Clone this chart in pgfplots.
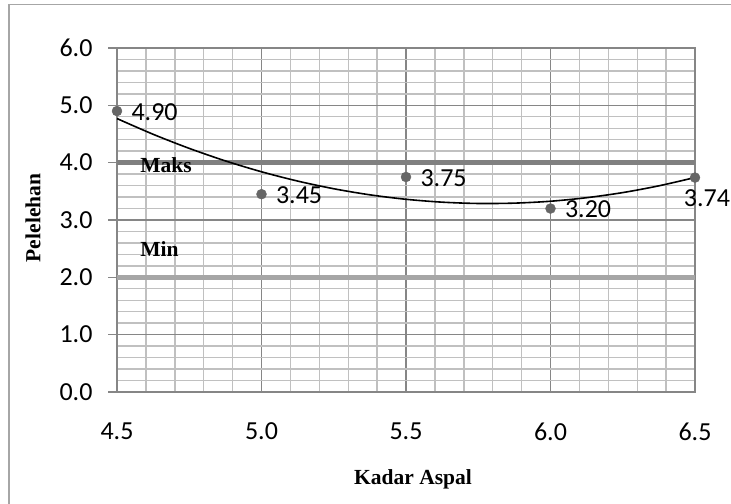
\documentclass[border=0pt]{standalone}
\usepackage{pgfplots}
\pgfplotsset{compat=1.18}
\usepackage{fontspec}
\setmainfont{Carlito}
\newfontfamily\timesf{Liberation Serif}
\definecolor{majgrid}{HTML}{868686}
\definecolor{mingrid}{HTML}{C0C0C0}
\definecolor{maksc}{HTML}{808080}
\definecolor{minc}{HTML}{A6A6A6}
\definecolor{dotc}{HTML}{666666}
\begin{document}
\begin{tikzpicture}[x=1bp,y=1bp]
\useasboundingbox (0,0) rectangle (731,504);
\draw[color=minc, line width=1.5bp] (9,0) -- (9,499.5) -- (731,499.5);
\begin{axis}[
  at={(117bp,112bp)}, anchor=south west,
  width=578bp, height=344bp, scale only axis,
  xmin=4.5, xmax=6.5, ymin=0, ymax=6,
  xtick={4.5,5.0,5.5,6.0,6.5}, ytick={0,1,2,3,4,5,6},
  minor x tick num=4, minor y tick num=4,
  grid=both,
  major grid style={color=majgrid, line width=1.3bp},
  minor grid style={color=mingrid, line width=1.4bp},
  axis line style={color=majgrid, line width=1.3bp},
  tick align=outside,
  ytick pos=left,
  major tick length=9bp,
  minor tick length=0pt,
  xtick style={draw=none},
  ytick style={color=majgrid, line width=1.3bp},
  /pgf/number format/assume math mode=true,
  /pgf/number format/.cd, fixed, fixed zerofill, precision=1, /pgfplots/.cd,
  tick label style={font=\fontsize{26bp}{30bp}\selectfont},
  yticklabel shift=12bp,
  xticklabel shift=18bp,
  clip=false,
]
\addplot[color=minc, line width=4.5bp, forget plot] coordinates {(4.5,2.0) (6.5,2.0)};
\addplot[color=maksc, line width=5bp, forget plot] coordinates {(4.5,4.0) (6.5,4.0)};
\node[anchor=west, font=\timesf\bfseries\fontsize{21.5bp}{24bp}\selectfont, inner sep=0pt] at (axis cs:4.58,3.96) {Maks};
\node[anchor=west, font=\timesf\bfseries\fontsize{21.5bp}{24bp}\selectfont, inner sep=0pt] at (axis cs:4.58,2.50) {Min};
% polynomial (order 2) trendline, tabulated
\addplot[black, line width=1.6bp, smooth] coordinates {
(4.5,4.769) (4.625,4.495) (4.75,4.249) (4.875,4.031) (5.0,3.841)
(5.125,3.679) (5.25,3.545) (5.375,3.439) (5.5,3.361) (5.625,3.311)
(5.75,3.288) (5.875,3.294) (6.0,3.327) (6.125,3.389) (6.25,3.478)
(6.375,3.596) (6.5,3.741)};
% data points with labels on the right
\addplot[only marks, mark=*, mark size=5bp, color=dotc,
  point meta=explicit symbolic,
  nodes near coords, nodes near coords align={anchor=west},
  every node near coord/.append style={color=black, font=\fontsize{26bp}{30bp}\selectfont, xshift=11bp, yshift=-1bp}]
  table[meta=lab] {
x y lab
4.5 4.90 4.90
5.0 3.45 3.45
5.5 3.75 3.75
6.0 3.20 3.20
};
% last point with label below
\addplot[only marks, mark=*, mark size=5bp, color=dotc,
  point meta=explicit symbolic,
  nodes near coords, nodes near coords align={anchor=north},
  every node near coord/.append style={color=black, font=\fontsize{26bp}{30bp}\selectfont, xshift=12bp, yshift=-9bp}]
  table[meta=lab] {
x y lab
6.5 3.74 3.74
};
\end{axis}
\node[rotate=90, font=\timesf\bfseries\fontsize{21.5bp}{24bp}\selectfont] at (33,286) {Pelelehan};
\node[font=\timesf\bfseries\fontsize{21.5bp}{24bp}\selectfont] at (413,25) {Kadar Aspal};
\end{tikzpicture}
\end{document}
